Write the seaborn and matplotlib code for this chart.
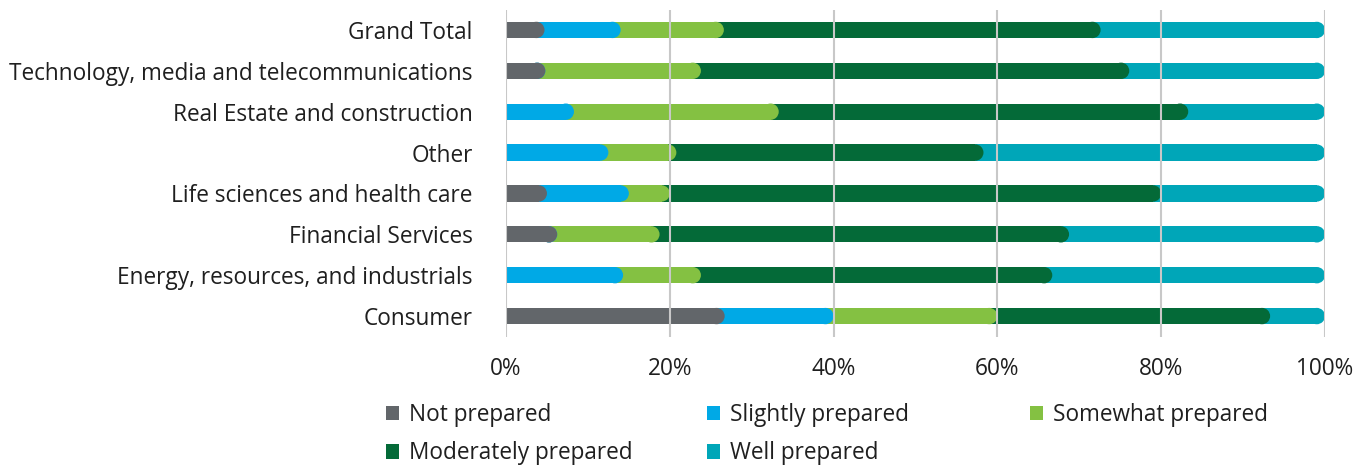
import numpy as np
import pandas as pd
import matplotlib
matplotlib.use("Agg")
import matplotlib.pyplot as plt
from matplotlib.patches import Ellipse, Patch
import seaborn as sns

categories = [
    "Grand Total",
    "Technology, media and telecommunications",
    "Real Estate and construction",
    "Other",
    "Life sciences and health care",
    "Financial Services",
    "Energy, resources, and industrials",
    "Consumer",
]
not_prepared = [4.7, 4.8, 0.0, 0.0, 5.0, 6.25, 0.0, 26.7]
slightly_prepared = [9.3, 0.0, 8.3, 12.5, 10.0, 0.0, 14.3, 13.3]
somewhat_prepared = [12.6, 19.0, 25.0, 8.3, 5.0, 12.5, 9.5, 20.0]
moderately_prepared = [46.0, 52.3, 50.0, 37.5, 60.0, 50.0, 42.9, 33.3]
well_prepared = [27.4, 23.9, 16.7, 41.7, 20.0, 31.25, 33.3, 6.7]

series_names = ["Not prepared", "Slightly prepared", "Somewhat prepared",
                "Moderately prepared", "Well prepared"]
series_values = [not_prepared, slightly_prepared, somewhat_prepared,
                 moderately_prepared, well_prepared]
colors = ["#62666A", "#00A9E6", "#84C142", "#046A38", "#00A6B8"]
x_ticks = [0, 20, 40, 60, 80, 100]
x_tick_labels = ["0%", "20%", "40%", "60%", "80%", "100%"]

sns.set_theme(style="white")
plt.rcParams["font.family"] = ["Open Sans", "DejaVu Sans"]
text_color = "#1F1F1F"
fs = 16.3

df = pd.DataFrame({"category": categories})
cum = np.cumsum(np.array(series_values), axis=0)
for name, c in zip(series_names, cum):
    df[name] = c

fig = plt.figure(figsize=(13.6, 4.65), dpi=100)
ax = fig.add_axes([506 / 1360, 1 - 336.5 / 465, (1325 - 506) / 1360, 327 / 465])

bar_h = 0.4
# Draw cumulative totals from the longest down so each segment shows its own stretch
layer_patches = []
for i in range(len(series_names) - 1, -1, -1):
    n_before = len(ax.patches)
    sns.barplot(data=df, x=series_names[i], y="category", order=categories,
                orient="h", color=colors[i], width=bar_h, linewidth=0,
                saturation=1, ax=ax, zorder=1 + (len(series_names) - i) * 0.1)
    layer_patches.append((i, list(ax.patches[n_before:])))

ax.set_xlim(0, 100)
ax.set_ylim(len(categories) - 0.5, -0.5)

# Rounded right-hand caps: half-ellipse sized to be circular on screen
p0 = ax.transData.transform((0, 0))
px_per_x = ax.transData.transform((1, 0))[0] - p0[0]
px_per_y = abs(ax.transData.transform((0, 1))[1] - p0[1])
r = (bar_h * px_per_y / 2) / px_per_x
for i, patches in layer_patches:
    for p in patches:
        w = p.get_width()
        if w <= 0:
            continue
        yc = p.get_y() + p.get_height() / 2
        p.set_width(w - r)
        ax.add_patch(Ellipse((w - r, yc), 2 * r, p.get_height(),
                             facecolor=colors[i], edgecolor="none",
                             linewidth=0, zorder=p.get_zorder()))

ax.set_xticks(x_ticks)
ax.set_xticklabels(x_tick_labels)
ax.set_xlabel("")
ax.set_ylabel("")
ax.set_axisbelow(False)
ax.grid(axis="x", color="#C8C8C8", linewidth=1.5, zorder=2.5)
ax.grid(axis="y", visible=False)
for s in ax.spines.values():
    s.set_visible(False)
ax.tick_params(axis="both", length=0, labelsize=fs, colors=text_color)
ax.tick_params(axis="x", pad=15)
ax.tick_params(axis="y", pad=24)

# Legend laid out as three evenly spaced columns
handles = [Patch(facecolor=c, edgecolor="none") for c in colors]
columns = [[0, 3], [1, 4], [2]]
col_x = [386, 707, 1030]
for cx, idx in zip(col_x, columns):
    fig.legend([handles[k] for k in idx], [series_names[k] for k in idx],
               loc="upper left", bbox_to_anchor=(cx / 1360, 1 - 403 / 465),
               frameon=False, fontsize=fs, handlelength=0.58, handleheight=0.58,
               handletextpad=0.44, labelspacing=0.64, borderpad=0,
               borderaxespad=0, labelcolor=text_color)

fig.savefig("out.png", dpi=100)
